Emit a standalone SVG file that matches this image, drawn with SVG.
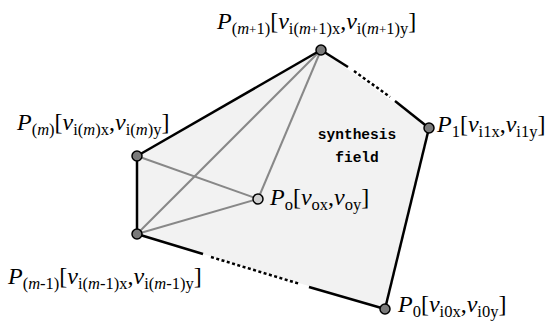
<svg xmlns="http://www.w3.org/2000/svg" width="548" height="327" viewBox="0 0 548 327">
<style>
.lbl{font-family:"Liberation Serif","Times New Roman",serif;font-size:24px;fill:#000}
.it{font-style:italic}
.s{font-size:16.5px}
.pl{font-size:13px}
.mono{font-family:"Liberation Mono","Courier New",monospace;font-weight:bold;font-size:14.5px;fill:#000;text-anchor:middle}
.edge{stroke:#000;stroke-width:2.5;fill:none;stroke-linecap:butt}
.dot{stroke:#000;stroke-width:2.5;fill:none;stroke-dasharray:3 2.5}
.gray{stroke:#888;stroke-width:2;fill:none}
.v{fill:#7a7a7a;stroke:#000;stroke-width:1.5}
.vo{fill:#cfcfcf;stroke:#000;stroke-width:1.5}
</style>
<polygon points="321,50 429,128 385,309 137,234 137,156" fill="#f2f2f2" stroke="none"/>
<g id="connectors">
<line class="gray" x1="321" y1="50" x2="137" y2="234"/>
<line class="gray" x1="321" y1="50" x2="258" y2="199"/>
<line class="gray" x1="137" y1="156" x2="258" y2="199"/>
<line class="gray" x1="137" y1="234" x2="258" y2="199"/>
<line class="edge" x1="137" y1="156" x2="321" y2="50"/>
<line class="edge" x1="137" y1="156" x2="137" y2="234"/>
<line class="edge" x1="429" y1="128" x2="385" y2="309"/>
<line class="edge" x1="321" y1="50" x2="348" y2="67"/>
<line class="dot" x1="354" y1="71" x2="390" y2="97"/>
<line class="edge" x1="395" y1="101" x2="429" y2="128"/>
<line class="edge" x1="137" y1="234" x2="203" y2="254"/>
<line class="dot" x1="211" y1="257" x2="300" y2="284"/>
<line class="edge" x1="309" y1="287" x2="385" y2="309"/>
</g>
<g id="field"><text class="mono" x="357" y="139">synthesis</text><text class="mono" x="357" y="162">field</text></g>
<g id="Pm1"><circle class="v" cx="321" cy="50" r="5"/>
<text class="lbl" x="217" y="29"><tspan class="it">P</tspan><tspan class="s" dy="5">(</tspan><tspan class="s it">m</tspan><tspan class="pl">+</tspan><tspan class="s">1)</tspan><tspan dy="-5">[</tspan><tspan class="it">v</tspan><tspan class="s" dy="5">i(</tspan><tspan class="s it">m</tspan><tspan class="pl">+</tspan><tspan class="s">1)x</tspan><tspan dy="-5">,</tspan><tspan class="it">v</tspan><tspan class="s" dy="5">i(</tspan><tspan class="s it">m</tspan><tspan class="pl">+</tspan><tspan class="s">1)y</tspan><tspan dy="-5">]</tspan></text></g>
<g id="Pm"><circle class="v" cx="137" cy="156" r="5"/>
<text class="lbl" x="17" y="130"><tspan class="it">P</tspan><tspan class="s" dy="5">(</tspan><tspan class="s it">m</tspan><tspan class="s">)</tspan><tspan dy="-5">[</tspan><tspan class="it">v</tspan><tspan class="s" dy="5">i(</tspan><tspan class="s it">m</tspan><tspan class="s">)x</tspan><tspan dy="-5">,</tspan><tspan class="it">v</tspan><tspan class="s" dy="5">i(</tspan><tspan class="s it">m</tspan><tspan class="s">)y</tspan><tspan dy="-5">]</tspan></text></g>
<g id="Pmm1"><circle class="v" cx="137" cy="234" r="5"/>
<text class="lbl" x="8" y="284"><tspan class="it">P</tspan><tspan class="s" dy="5">(</tspan><tspan class="s it">m</tspan><tspan class="s">-1)</tspan><tspan dy="-5">[</tspan><tspan class="it">v</tspan><tspan class="s" dy="5">i(</tspan><tspan class="s it">m</tspan><tspan class="s">-1)x</tspan><tspan dy="-5">,</tspan><tspan class="it">v</tspan><tspan class="s" dy="5">i(</tspan><tspan class="s it">m</tspan><tspan class="s">-1)y</tspan><tspan dy="-5">]</tspan></text></g>
<g id="P1"><circle class="v" cx="429" cy="128" r="5"/>
<text class="lbl" x="437" y="132"><tspan class="it">P</tspan><tspan class="s" dy="5">1</tspan><tspan dy="-5">[</tspan><tspan class="it">v</tspan><tspan class="s" dy="5">i1x</tspan><tspan dy="-5">,</tspan><tspan class="it">v</tspan><tspan class="s" dy="5">i1y</tspan><tspan dy="-5">]</tspan></text></g>
<g id="Po"><circle class="vo" cx="258" cy="199" r="5"/>
<text class="lbl" x="270" y="205"><tspan class="it">P</tspan><tspan class="s" dy="5">o</tspan><tspan dy="-5">[</tspan><tspan class="it">v</tspan><tspan class="s" dy="5">ox</tspan><tspan dy="-5">,</tspan><tspan class="it">v</tspan><tspan class="s" dy="5">oy</tspan><tspan dy="-5">]</tspan></text></g>
<g id="P0"><circle class="v" cx="385" cy="309" r="5"/>
<text class="lbl" x="398" y="312"><tspan class="it">P</tspan><tspan class="s" dy="5">0</tspan><tspan dy="-5">[</tspan><tspan class="it">v</tspan><tspan class="s" dy="5">i0x</tspan><tspan dy="-5">,</tspan><tspan class="it">v</tspan><tspan class="s" dy="5">i0y</tspan><tspan dy="-5">]</tspan></text></g>
</svg>
